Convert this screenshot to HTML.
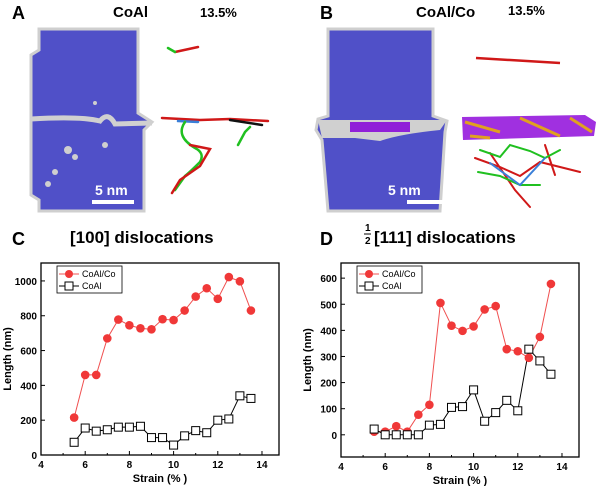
<!DOCTYPE html>
<html><head><meta charset="utf-8"><style>
body{margin:0;background:#fff;width:600px;height:486px;overflow:hidden;font-family:"Liberation Sans",sans-serif}
svg text{font-family:"Liberation Sans",sans-serif}
</style></head><body>
<svg width="600" height="486" viewBox="0 0 600 486">
<!-- Panel A -->
<g>
<text x="12" y="19" font-size="18" font-weight="bold">A</text>
<text x="113" y="17" font-size="15" font-weight="bold">CoAl</text>
<text x="200" y="17" font-size="13" font-weight="bold">13.5%</text>
<path d="M39,29 L138,29 L138,113 L152,122 L144,130 L144,211 L39,211 L39,200 L31,195 L31,55 L39,50 Z" fill="#5050c8" stroke="#cfcfcf" stroke-width="3"/>
<path d="M31,119 Q80,116 100,121 Q108,111 115,124 L152,123" fill="none" stroke="#d0d0d0" stroke-width="5"/>
<g fill="#cfcfcf"><circle cx="68" cy="150" r="4"/><circle cx="75" cy="157" r="3"/><circle cx="55" cy="172" r="3"/><circle cx="48" cy="184" r="3"/><circle cx="105" cy="145" r="3"/><circle cx="95" cy="103" r="2"/></g>
<rect x="92" y="200" width="42" height="4" fill="#fff"/>
<text x="95" y="195" font-size="14" font-weight="bold" fill="#fff">5 nm</text>
<g fill="none" stroke-width="2.5" stroke-linecap="round">
<path d="M175,52 L198,47" stroke="#d01818"/><path d="M168,48 L175,52" stroke="#20c020"/>
<path d="M162,118 L200,120 L230,119 L268,121" stroke="#d01818"/><path d="M178,121 L198,122" stroke="#3a7fd8"/><path d="M230,120 L262,125" stroke="#111"/>
<path d="M185,122 Q175,136 195,148 Q205,153 200,162 Q190,172 185,176 L175,190" stroke="#20c020"/><path d="M190,145 L210,149 L200,166 L180,180 L172,193" stroke="#d01818"/>
<path d="M238,145 L245,132 L250,127" stroke="#20c020"/>
</g>
</g>
<!-- Panel B -->
<g>
<text x="320" y="19" font-size="18" font-weight="bold">B</text>
<text x="416" y="17" font-size="15" font-weight="bold">CoAl/Co</text>
<text x="508" y="15" font-size="13" font-weight="bold">13.5%</text>
<path d="M328,29 L433,29 L433,116 L447,121 L445,132 L440,211 L328,211 L325,175 L322,140 L316,130 L318,119 L328,116 Z" fill="#5050c8" stroke="#cfcfcf" stroke-width="3"/>
<path d="M318,120 L447,120 L440,130 Q400,134 380,141 L355,138 L322,138 Z" fill="#d0d0d0"/>
<rect x="350" y="122" width="60" height="10" fill="#9020d8"/>
<rect x="407" y="200" width="42" height="4" fill="#fff"/>
<text x="388" y="195" font-size="14" font-weight="bold" fill="#fff">5 nm</text>
<path d="M476,58 L560,63" stroke="#d01818" stroke-width="2.5" fill="none"/>
<path d="M462,117 L585,115 L596,122 L594,136 L463,140 Z" fill="#a030e0"/>
<g stroke="#e0a020" stroke-width="3"><path d="M465,122 L500,132"/><path d="M520,118 L560,136"/><path d="M570,118 L592,132"/><path d="M470,136 L490,138"/></g>
<g fill="none" stroke-width="2" stroke-linecap="round">
<path d="M475,158 L500,167 L520,176 L540,162 L580,172" stroke="#d01818"/><path d="M490,153 L515,190 L530,207" stroke="#d01818"/><path d="M545,145 L555,175" stroke="#d01818"/>
<path d="M480,150 L500,157 L510,145 L530,151 L545,158 L560,150" stroke="#20c020"/><path d="M478,172 L500,176 L520,185 L540,185" stroke="#20c020"/>
<path d="M490,163 L520,185 L545,158" stroke="#3a7fd8"/>
</g>
</g>
<!-- Headers C/D -->
<text x="12" y="245" font-size="18" font-weight="bold">C</text>
<text x="70" y="243" font-size="17" font-weight="bold">[100] dislocations</text>
<text x="320" y="245" font-size="18" font-weight="bold">D</text>
<text x="365" y="231" font-size="10" font-weight="bold">1</text>
<line x1="364" y1="234" x2="371" y2="234" stroke="#000"/>
<text x="365" y="244" font-size="10" font-weight="bold">2</text>
<text x="374" y="243" font-size="17" font-weight="bold">[111] dislocations</text>
<g id="chartC"></g>
<g id="chartD"></g>
</svg>
<script>
const strain = [5.5,6,6.5,7,7.5,8,8.5,9,9.5,10,10.5,11,11.5,12,12.5,13,13.5];
const cCoAlCo = [215,460,460,670,778,745,728,722,780,775,830,910,958,897,1022,998,830];
const cCoAl = [73,155,137,145,160,160,165,100,100,57,110,140,128,200,207,340,325];
const dCoAlCo = [12,12,33,12,77,115,505,418,398,415,480,493,328,320,295,375,578];
const dCoAl = [22,0,0,0,0,37,40,105,108,172,52,85,132,92,328,283,232];
const xTicks = [4,6,8,10,12,14];
const cTicks = [0,200,400,600,800,1000];
const dTicks = [0,100,200,300,400,500,600];
const NS='http://www.w3.org/2000/svg';
function mk(p,t,a){const e=document.createElementNS(NS,t);for(const k in a)e.setAttribute(k,a[k]);p.appendChild(e);return e;}
function chart(g,box,xd,yd,yt,s1,s2,pre){
  const sx=v=>box.l+(v-xd[0])/(xd[1]-xd[0])*(box.r-box.l);
  const sy=v=>box.b-(v-yd[0])/(yd[1]-yd[0])*(box.b-box.t);
  const fr=mk(g,'rect',{x:box.l,y:box.t,width:box.r-box.l,height:box.b-box.t,fill:'none',stroke:'#000','stroke-width':1.3});
  
  
  for(let v=4;v<=14.01;v+=1){const x=sx(v);const major=(v%2===0);
    const tk=mk(g,'line',{x1:x,x2:x,y1:box.b,y2:box.b-(major?4:2),stroke:'#000'});
    
    }
  xTicks.forEach(v=>{const t=mk(g,'text',{x:sx(v),y:box.b+13,'font-size':10,'font-weight':'bold','text-anchor':'middle'});t.textContent=v;
    
    });
  yt.forEach(v=>{const y=sy(v);mk(g,'line',{x1:box.l,x2:box.l+4,y1:y,y2:y,stroke:'#000'});
    const t=mk(g,'text',{x:box.l-4,y:y+4,'font-size':10,'font-weight':'bold','text-anchor':'end'});t.textContent=v;
    
    });
  const xl=mk(g,'text',{x:(box.l+box.r)/2,y:box.b+27,'font-size':11,'font-weight':'bold','text-anchor':'middle'});xl.textContent='Strain (% )';
  
  
  const cy=(box.t+box.b)/2, cx=box.l-30;
  const yl=mk(g,'text',{x:cx,y:cy,'font-size':11,'font-weight':'bold','text-anchor':'middle',transform:`rotate(-90 ${cx} ${cy})`});yl.textContent='Length (nm)';
  
  
  const p1=strain.map((v,i)=>sx(v)+','+sy(s1[i])).join(' ');
  const l1=mk(g,'polyline',{points:p1,fill:'none',stroke:'#f05050','stroke-width':1});
  
  
  const p2=strain.map((v,i)=>sx(v)+','+sy(s2[i])).join(' ');
  const l2=mk(g,'polyline',{points:p2,fill:'none',stroke:'#000','stroke-width':1});
  
  
  strain.forEach((v,i)=>{const c=mk(g,'circle',{cx:sx(v),cy:sy(s1[i]),r:4.3,fill:'#f03838'});
    
    });
  strain.forEach((v,i)=>{const r=mk(g,'rect',{x:sx(v)-4,y:sy(s2[i])-4,width:8,height:8,fill:'#fff',stroke:'#000','stroke-width':1});
    
    });
  const lx=box.l+16, ly=box.t+3;
  const lg=mk(g,'rect',{x:lx,y:ly,width:65,height:27,fill:'#fff',stroke:'#000','stroke-width':0.8});
  
  
  mk(g,'line',{x1:lx+2,x2:lx+22,y1:ly+8,y2:ly+8,stroke:'#f05050'});
  mk(g,'circle',{cx:lx+12,cy:ly+8,r:4,fill:'#f03838'});
  const t1=mk(g,'text',{x:lx+25,y:ly+11,'font-size':9});t1.textContent='CoAl/Co';
  
  
  mk(g,'line',{x1:lx+2,x2:lx+22,y1:ly+20,y2:ly+20,stroke:'#000'});
  mk(g,'rect',{x:lx+8,y:ly+16,width:8,height:8,fill:'#fff',stroke:'#000'});
  const t2=mk(g,'text',{x:lx+25,y:ly+23,'font-size':9});t2.textContent='CoAl';
  
  
}
chart(document.getElementById('chartC'),{l:41,r:279,t:263,b:455},[4,14.77],[0,1103],cTicks,cCoAlCo,cCoAl,'c');
chart(document.getElementById('chartD'),{l:341,r:579,t:263,b:457},[4,14.77],[-85,658],dTicks,dCoAlCo,dCoAl,'d');
</script>
</body></html>
